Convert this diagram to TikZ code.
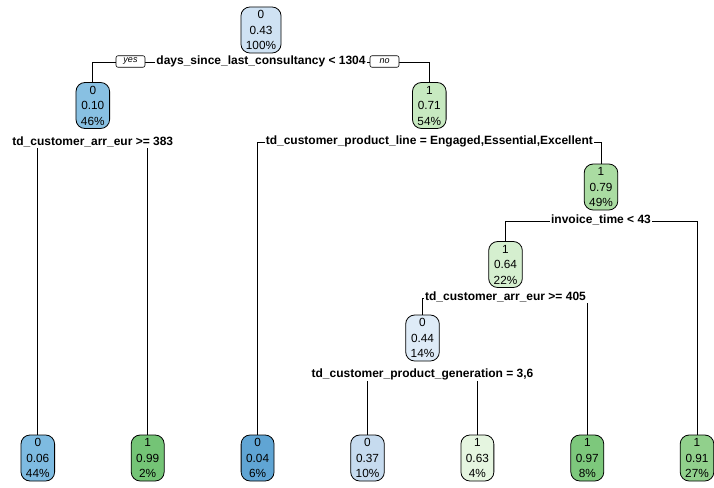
\documentclass[tikz,border=0pt]{standalone}
\usepackage{fontspec}
\setmainfont{Liberation Sans}
% node fills: blues for class 0, greens for class 1
\definecolor{bA}{RGB}{96,165,212}   % 0.04
\definecolor{bB}{RGB}{126,187,225}  % 0.06
\definecolor{bC}{RGB}{136,192,226}  % 0.10
\definecolor{bD}{RGB}{198,219,239}  % 0.37
\definecolor{bE}{RGB}{207,226,243}  % 0.43
\definecolor{bF}{RGB}{222,235,247}  % 0.44
\definecolor{gA}{RGB}{229,245,224}  % 0.63
\definecolor{gB}{RGB}{213,239,207}  % 0.64
\definecolor{gC}{RGB}{199,233,192}  % 0.71
\definecolor{gD}{RGB}{170,220,162}  % 0.79
\definecolor{gE}{RGB}{145,208,140}  % 0.91
\definecolor{gF}{RGB}{125,200,124}  % 0.97
\definecolor{gG}{RGB}{116,196,118}  % 0.99
\begin{document}
\begin{tikzpicture}[x=1pt,y=-1pt,
  tnode/.style={draw=black, line width=0.8pt, rounded corners=9pt, align=center,
    font=\fontsize{11.8}{15.5}\selectfont, minimum height=46pt, inner xsep=5pt, inner ysep=0pt},
  splitlabel/.style={font=\bfseries\fontsize{12}{14}\selectfont, inner sep=1pt, anchor=mid},
  branch/.style={draw=black, line width=0.8pt},
  yesno/.style={draw=black, fill=white, line width=0.6pt, rounded corners=2pt,
    font=\itshape\fontsize{9}{10}\selectfont, minimum width=29pt, minimum height=11.5pt, inner sep=0pt}
]
\useasboundingbox[fill=white] (0,0) rectangle (714,487);

% inner nodes
\node[tnode, fill=bE] (n1) at (261,30)    {0\\0.43\\100\%};
\node[tnode, fill=bC] (n2) at (92.8,105.5) {0\\0.10\\46\%};
\node[tnode, fill=gC] (n3) at (429.3,105.5) {1\\0.71\\54\%};
\node[tnode, fill=gD] (n4) at (601,187)   {1\\0.79\\49\%};
\node[tnode, fill=gB] (n5) at (505.5,264.5) {1\\0.64\\22\%};
\node[tnode, fill=bF] (n6) at (422.5,338) {0\\0.44\\14\%};

% leaves
\node[tnode, fill=bB] (L1) at (37.8,458)  {0\\0.06\\44\%};
\node[tnode, fill=gG] (L2) at (147.7,458) {1\\0.99\\2\%};
\node[tnode, fill=bA] (L3) at (257.6,458) {0\\0.04\\6\%};
\node[tnode, fill=bD] (L4) at (367.5,458) {0\\0.37\\10\%};
\node[tnode, fill=gA] (L5) at (477.4,458) {1\\0.63\\4\%};
\node[tnode, fill=gF] (L6) at (587.3,458) {1\\0.97\\8\%};
\node[tnode, fill=gE] (L7) at (697,458)   {1\\0.91\\27\%};

% split labels
\node[splitlabel] (s1) at (261,62)    {days\_since\_last\_consultancy < 1304};
\node[splitlabel] (s2) at (92.8,143)  {td\_customer\_arr\_eur >= 383};
\node[splitlabel] (s3) at (429.3,142) {td\_customer\_product\_line = Engaged,Essential,Excellent};
\node[splitlabel] (s4) at (601,221)   {invoice\_time < 43};
\node[splitlabel] (s5) at (505.5,298) {td\_customer\_arr\_eur >= 405};
\node[splitlabel] (s6) at (422.5,375) {td\_customer\_product\_generation = 3,6};

% branches
\draw[branch] (s1.mid west) -| (n2.north);
\draw[branch] (s1.mid east) -| (n3.north);
\draw[branch] (L1.north |- s2.south) -- (L1.north);
\draw[branch] (L2.north |- s2.south) -- (L2.north);
\draw[branch] (s3.mid west) -| (L3.north);
\draw[branch] (s3.mid east) -| (n4.north);
\draw[branch] (s4.mid west) -| (n5.north);
\draw[branch] (s4.mid east) -| (L7.north);
\draw[branch] (s5.mid west) -| (n6.north);
\draw[branch] (L6.north |- s5.south) -- (L6.north);
\draw[branch] (L4.north |- s6.south) -- (L4.north);
\draw[branch] (L5.north |- s6.south) -- (L5.north);

% yes / no tags on the root split
\node[yesno] (yes) at (130.5,61.5) {yes};
\node[yesno] (no)  at (384.5,61.5) {no};
\end{tikzpicture}
\end{document}
